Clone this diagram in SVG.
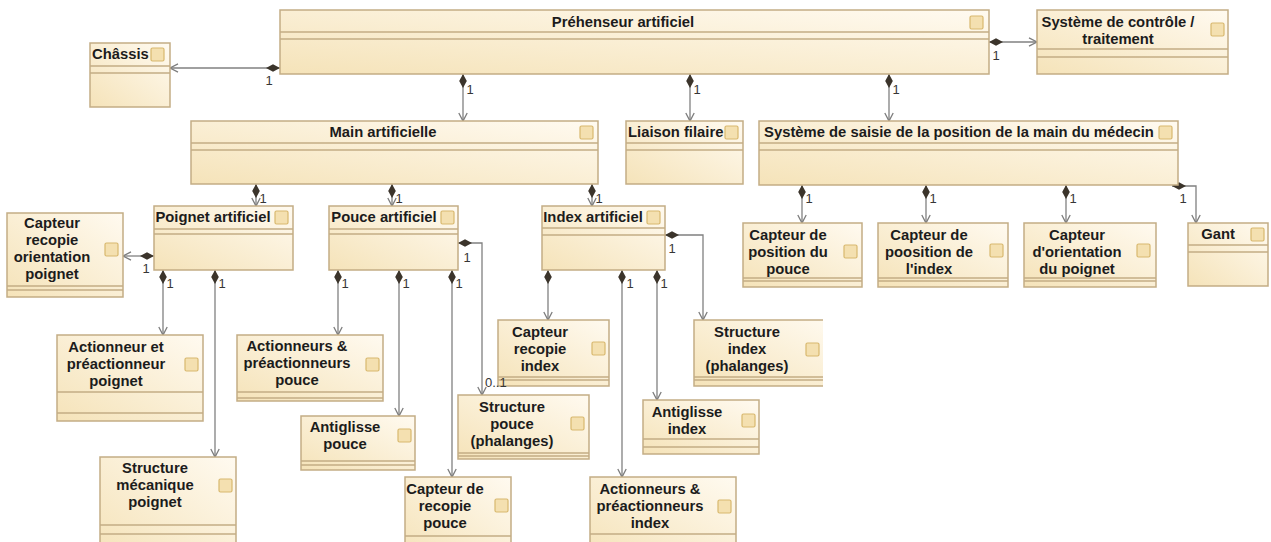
<svg xmlns="http://www.w3.org/2000/svg" width="1271" height="542" viewBox="0 0 1271 542">
<defs>
<linearGradient id="g" x1="0" y1="1" x2="1" y2="0">
<stop offset="0" stop-color="#f5e3b9"/>
<stop offset="1" stop-color="#fffaf0"/>
</linearGradient>
<marker id="dia" markerUnits="userSpaceOnUse" markerWidth="16" markerHeight="10" refX="0" refY="4" orient="auto" overflow="visible"><path d="M0,4 L7,0.2 L14,4 L7,7.8 Z" fill="#3b342b"/></marker>
<marker id="arr" markerUnits="userSpaceOnUse" markerWidth="10" markerHeight="10" refX="9" refY="5" orient="auto" overflow="visible"><path d="M1,0.8 L9,5 L1,9.2" fill="none" stroke="#7d7d7d" stroke-width="1.3"/></marker>
<clipPath id="clipR"><rect x="0" y="0" width="823" height="542"/></clipPath>
</defs>
<style>
.box{fill:url(#g);stroke:#c3ad85;stroke-width:1.5}
.sep{stroke:#c3ad85;stroke-width:1.3}
.ic{fill:#f4e0b0;stroke:#d8b86e;stroke-width:1.2}
.t{font-family:"Liberation Sans",Arial,sans-serif;font-weight:bold;font-size:14.8px;fill:#1c1c1c}
.m{text-anchor:middle}
.c{fill:none;stroke:#808080;stroke-width:1.3;marker-start:url(#dia);marker-end:url(#arr)}
.n{font-family:"Liberation Sans",Arial,sans-serif;font-size:13px;fill:#363636}
</style>
<rect width="1271" height="542" fill="#ffffff"/>

<g id="connectors">
<path class="c" d="M280,68 H170"/>
<path class="c" d="M989,42 H1037"/>
<path class="c" d="M463,74 V121"/>
<path class="c" d="M690,74 V121"/>
<path class="c" d="M889,74 V121"/>
<path class="c" d="M256,184 V206"/>
<path class="c" d="M392,184 V206"/>
<path class="c" d="M592,184 V206"/>
<path class="c" d="M802,185 V223"/>
<path class="c" d="M926,185 V223"/>
<path class="c" d="M1066,185 V223"/>
<path class="c" d="M1172,186 H1196 V223"/>
<path class="c" d="M154,256 H123"/>
<path class="c" d="M163,270 V335"/>
<path class="c" d="M215,270 V457"/>
<path class="c" d="M338,270 V335"/>
<path class="c" d="M399,270 V416"/>
<path class="c" d="M452,270 V477"/>
<path class="c" d="M458,243 H482 V395"/>
<path class="c" d="M548,270 V320"/>
<path class="c" d="M622,270 V477"/>
<path class="c" d="M657,270 V400"/>
<path class="c" d="M665,235 H703 V320"/>
</g>

<g id="prehenseur">
<rect class="box" x="280" y="10" width="709" height="64"/>
<line class="sep" x1="280" y1="32" x2="989" y2="32"/><line class="sep" x1="280" y1="39" x2="989" y2="39"/>
<rect class="ic" x="970" y="16" width="13" height="13" rx="1.5"/>
<text class="t m" x="623" y="27">Préhenseur artificiel</text>
</g>

<g id="chassis">
<rect class="box" x="90" y="43" width="80" height="64"/>
<line class="sep" x1="90" y1="66" x2="170" y2="66"/><line class="sep" x1="90" y1="73" x2="170" y2="73"/>
<rect class="ic" x="151" y="48" width="13" height="13" rx="1.5"/>
<text class="t" x="92" y="59">Châssis</text>
</g>

<g id="controle">
<rect class="box" x="1037" y="10" width="191" height="64"/>
<line class="sep" x1="1037" y1="49" x2="1228" y2="49"/><line class="sep" x1="1037" y1="57" x2="1228" y2="57"/>
<rect class="ic" x="1211" y="23" width="13" height="13" rx="1.5"/>
<text class="t m" x="1118" y="27">Système de contrôle /</text>
<text class="t m" x="1118" y="44">traitement</text>
</g>

<g id="main">
<rect class="box" x="191" y="121" width="407" height="63"/>
<line class="sep" x1="191" y1="143" x2="598" y2="143"/><line class="sep" x1="191" y1="150" x2="598" y2="150"/>
<rect class="ic" x="580" y="126" width="13" height="13" rx="1.5"/>
<text class="t m" x="383" y="137">Main artificielle</text>
</g>

<g id="liaison">
<rect class="box" x="626" y="121" width="117" height="63"/>
<line class="sep" x1="626" y1="143" x2="743" y2="143"/><line class="sep" x1="626" y1="150" x2="743" y2="150"/>
<rect class="ic" x="725" y="126" width="13" height="13" rx="1.5"/>
<text class="t" x="628" y="137">Liaison filaire</text>
</g>

<g id="saisie">
<rect class="box" x="759" y="121" width="419" height="64"/>
<line class="sep" x1="759" y1="143" x2="1178" y2="143"/><line class="sep" x1="759" y1="150" x2="1178" y2="150"/>
<rect class="ic" x="1159" y="126" width="13" height="13" rx="1.5"/>
<text class="t m" x="959" y="137">Système de saisie de la position de la main du médecin</text>
</g>

<g id="poignet">
<rect class="box" x="154" y="206" width="139" height="64"/>
<line class="sep" x1="154" y1="229" x2="293" y2="229"/><line class="sep" x1="154" y1="234" x2="293" y2="234"/>
<rect class="ic" x="275" y="211" width="13" height="13" rx="1.5"/>
<text class="t m" x="213" y="222">Poignet artificiel</text>
</g>

<g id="pouce">
<rect class="box" x="329" y="206" width="129" height="64"/>
<line class="sep" x1="329" y1="229" x2="458" y2="229"/><line class="sep" x1="329" y1="234" x2="458" y2="234"/>
<rect class="ic" x="441" y="211" width="13" height="13" rx="1.5"/>
<text class="t m" x="384" y="222">Pouce artificiel</text>
</g>

<g id="index">
<rect class="box" x="542" y="206" width="123" height="64"/>
<line class="sep" x1="542" y1="228" x2="665" y2="228"/><line class="sep" x1="542" y1="235" x2="665" y2="235"/>
<rect class="ic" x="647" y="211" width="13" height="13" rx="1.5"/>
<text class="t m" x="593" y="222">Index artificiel</text>
</g>

<g id="capteur-orientation-poignet">
<rect class="box" x="7" y="213" width="116" height="84"/>
<line class="sep" x1="7" y1="286" x2="123" y2="286"/><line class="sep" x1="7" y1="290" x2="123" y2="290"/>
<rect class="ic" x="105" y="243" width="13" height="13" rx="1.5"/>
<text class="t m" x="52" y="228">Capteur</text>
<text class="t m" x="52" y="245">recopie</text>
<text class="t m" x="52" y="262">orientation</text>
<text class="t m" x="52" y="279">poignet</text>
</g>

<g id="actionneur-poignet">
<rect class="box" x="57" y="335" width="146" height="86"/>
<line class="sep" x1="57" y1="392" x2="203" y2="392"/><line class="sep" x1="57" y1="413" x2="203" y2="413"/>
<rect class="ic" x="185" y="358" width="13" height="13" rx="1.5"/>
<text class="t m" x="116" y="352">Actionneur et</text>
<text class="t m" x="116" y="369">préactionneur</text>
<text class="t m" x="116" y="386">poignet</text>
</g>

<g id="structure-poignet">
<rect class="box" x="100" y="457" width="136" height="100"/>
<line class="sep" x1="100" y1="525" x2="236" y2="525"/><line class="sep" x1="100" y1="534" x2="236" y2="534"/>
<rect class="ic" x="219" y="479" width="13" height="13" rx="1.5"/>
<text class="t m" x="155" y="473">Structure</text>
<text class="t m" x="155" y="490">mécanique</text>
<text class="t m" x="155" y="507">poignet</text>
</g>

<g id="actionneurs-pouce">
<rect class="box" x="237" y="335" width="146" height="66"/>
<line class="sep" x1="237" y1="392" x2="383" y2="392"/><line class="sep" x1="237" y1="398" x2="383" y2="398"/>
<rect class="ic" x="366" y="358" width="13" height="13" rx="1.5"/>
<text class="t m" x="297" y="351">Actionneurs &amp;</text>
<text class="t m" x="297" y="368">préactionneurs</text>
<text class="t m" x="297" y="385">pouce</text>
</g>

<g id="antiglisse-pouce">
<rect class="box" x="301" y="416" width="114" height="54"/>
<line class="sep" x1="301" y1="461" x2="415" y2="461"/><line class="sep" x1="301" y1="465" x2="415" y2="465"/>
<rect class="ic" x="398" y="429" width="13" height="13" rx="1.5"/>
<text class="t m" x="345" y="432">Antiglisse</text>
<text class="t m" x="345" y="449">pouce</text>
</g>

<g id="capteur-recopie-pouce">
<rect class="box" x="405" y="477" width="106" height="80"/>
<line class="sep" x1="405" y1="536" x2="511" y2="536"/>
<rect class="ic" x="495" y="499" width="13" height="13" rx="1.5"/>
<text class="t m" x="445" y="494">Capteur de</text>
<text class="t m" x="445" y="511">recopie</text>
<text class="t m" x="445" y="528">pouce</text>
</g>

<g id="structure-pouce">
<rect class="box" x="458" y="395" width="131" height="64"/>
<line class="sep" x1="458" y1="453" x2="589" y2="453"/><line class="sep" x1="458" y1="456" x2="589" y2="456"/>
<rect class="ic" x="571" y="417" width="13" height="13" rx="1.5"/>
<text class="t m" x="512" y="412">Structure</text>
<text class="t m" x="512" y="429">pouce</text>
<text class="t m" x="512" y="446">(phalanges)</text>
</g>

<g id="capteur-recopie-index">
<rect class="box" x="498" y="320" width="111" height="66"/>
<line class="sep" x1="498" y1="377" x2="609" y2="377"/><line class="sep" x1="498" y1="380" x2="609" y2="380"/>
<rect class="ic" x="592" y="342" width="13" height="13" rx="1.5"/>
<text class="t m" x="540" y="337">Capteur</text>
<text class="t m" x="540" y="354">recopie</text>
<text class="t m" x="540" y="371">index</text>
</g>

<g id="structure-index" clip-path="url(#clipR)">
<rect class="box" x="694" y="320" width="140" height="66"/>
<line class="sep" x1="694" y1="377" x2="834" y2="377"/><line class="sep" x1="694" y1="380" x2="834" y2="380"/>
<rect class="ic" x="806" y="343" width="13" height="13" rx="1.5"/>
<text class="t m" x="747" y="337">Structure</text>
<text class="t m" x="747" y="354">index</text>
<text class="t m" x="747" y="371">(phalanges)</text>
</g>

<g id="antiglisse-index">
<rect class="box" x="643" y="400" width="116" height="54"/>
<line class="sep" x1="643" y1="439" x2="759" y2="439"/><line class="sep" x1="643" y1="447" x2="759" y2="447"/>
<rect class="ic" x="742" y="414" width="13" height="13" rx="1.5"/>
<text class="t m" x="687" y="417">Antiglisse</text>
<text class="t m" x="687" y="434">index</text>
</g>

<g id="actionneurs-index">
<rect class="box" x="590" y="477" width="146" height="80"/>
<line class="sep" x1="590" y1="534" x2="736" y2="534"/>
<rect class="ic" x="718" y="500" width="13" height="13" rx="1.5"/>
<text class="t m" x="650" y="494">Actionneurs &amp;</text>
<text class="t m" x="650" y="511">préactionneurs</text>
<text class="t m" x="650" y="528">index</text>
</g>

<g id="capteur-position-pouce">
<rect class="box" x="743" y="223" width="119" height="64"/>
<line class="sep" x1="743" y1="278" x2="862" y2="278"/><line class="sep" x1="743" y1="281" x2="862" y2="281"/>
<rect class="ic" x="844" y="245" width="13" height="13" rx="1.5"/>
<text class="t m" x="788" y="240">Capteur de</text>
<text class="t m" x="788" y="257">position du</text>
<text class="t m" x="788" y="274">pouce</text>
</g>

<g id="capteur-position-index">
<rect class="box" x="878" y="223" width="130" height="64"/>
<line class="sep" x1="878" y1="278" x2="1008" y2="278"/><line class="sep" x1="878" y1="281" x2="1008" y2="281"/>
<rect class="ic" x="990" y="244" width="13" height="13" rx="1.5"/>
<text class="t m" x="929" y="240">Capteur de</text>
<text class="t m" x="929" y="257">poosition de</text>
<text class="t m" x="929" y="274">l'index</text>
</g>

<g id="capteur-orientation">
<rect class="box" x="1024" y="223" width="132" height="64"/>
<line class="sep" x1="1024" y1="278" x2="1156" y2="278"/><line class="sep" x1="1024" y1="281" x2="1156" y2="281"/>
<rect class="ic" x="1137" y="244" width="13" height="13" rx="1.5"/>
<text class="t m" x="1077" y="240">Capteur</text>
<text class="t m" x="1077" y="257">d'orientation</text>
<text class="t m" x="1077" y="274">du poignet</text>
</g>

<g id="gant">
<rect class="box" x="1188" y="223" width="80" height="63"/>
<line class="sep" x1="1188" y1="245" x2="1268" y2="245"/><line class="sep" x1="1188" y1="252" x2="1268" y2="252"/>
<rect class="ic" x="1251" y="228" width="13" height="13" rx="1.5"/>
<text class="t m" x="1218" y="239">Gant</text>
</g>

<g id="connector-labels" class="n">
<g text-anchor="middle">
<text x="269" y="85">1</text>
<text x="996" y="60">1</text>
<text x="470" y="94">1</text>
<text x="697" y="94">1</text>
<text x="896" y="94">1</text>
<text x="263" y="203">1</text>
<text x="399" y="203">1</text>
<text x="599" y="203">1</text>
<text x="809" y="203">1</text>
<text x="933" y="203">1</text>
<text x="1073" y="203">1</text>
<text x="1183" y="203">1</text>
<text x="146" y="273">1</text>
<text x="170" y="288">1</text>
<text x="222" y="288">1</text>
<text x="345" y="288">1</text>
<text x="406" y="288">1</text>
<text x="459" y="288">1</text>
<text x="467" y="262">1</text>
<text x="630" y="288">1</text>
<text x="664" y="288">1</text>
<text x="672" y="253">1</text>
</g>
<text x="485" y="387">0..1</text>
</g>
</svg>
